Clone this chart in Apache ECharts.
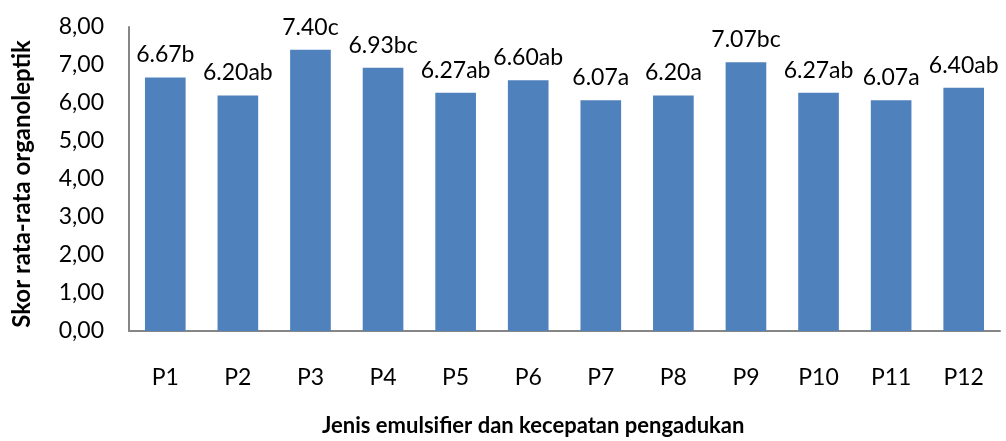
<!DOCTYPE html>
<html>
<head>
<meta charset="utf-8">
<script src="https://cdn.jsdelivr.net/npm/echarts@6/dist/echarts.min.js"></script>
<style>
  html, body { margin: 0; padding: 0; background: #fff; }
  #chart { width: 1006px; height: 441px; }
</style>
</head>
<body>
<div id="chart"></div>
<script>
// Treatments, mean organoleptic scores and significance letters
const categories = ['P1', 'P2', 'P3', 'P4', 'P5', 'P6', 'P7', 'P8', 'P9', 'P10', 'P11', 'P12'];
const scores = [6.67, 6.20, 7.40, 6.93, 6.27, 6.60, 6.07, 6.20, 7.07, 6.27, 6.07, 6.40];
const letters = ['b', 'ab', 'c', 'bc', 'ab', 'ab', 'a', 'a', 'bc', 'ab', 'a', 'ab'];
const yTicks = [0, 1, 2, 3, 4, 5, 6, 7, 8];

const FONT = 'Lato';
const chart = echarts.init(document.getElementById('chart'), null, { renderer: 'canvas' });

chart.setOption({
  animation: false,
  backgroundColor: '#ffffff',
  textStyle: { fontFamily: FONT, color: '#000' },
  title: {
    text: 'Jenis emulsifier dan kecepatan pengadukan',
    left: 322,
    top: 415,
    padding: 0,
    textStyle: { fontFamily: FONT, fontWeight: 'bold', fontSize: 22, color: '#000' }
  },
  // vertical axis title, rotated to read bottom-to-top
  graphic: [{
    type: 'text',
    x: 22,
    y: 184,
    rotation: Math.PI / 2,
    style: {
      text: 'Skor rata-rata organoleptik',
      fontFamily: FONT,
      fontWeight: 'bold',
      fontSize: 24,
      fill: '#000',
      align: 'center',
      verticalAlign: 'middle'
    }
  }],
  grid: { left: 129, right: 6, top: 27, bottom: 110, containLabel: false, outerBoundsMode: 'none' },
  xAxis: {
    type: 'category',
    data: categories,
    axisLine: { lineStyle: { color: '#868686', width: 2 } },
    axisTick: { show: false },
    axisLabel: { fontFamily: FONT, fontSize: 23, color: '#000', margin: 35 }
  },
  yAxis: {
    type: 'value',
    min: yTicks[0],
    max: yTicks[yTicks.length - 1],
    interval: 1,
    axisLine: { show: true, lineStyle: { color: '#868686', width: 2 } },
    axisTick: { show: false },
    splitLine: { show: false },
    axisLabel: {
      fontFamily: FONT, fontSize: 23, color: '#000', margin: 25,
      formatter: v => v.toFixed(2).replace('.', ',')
    }
  },
  series: [{
    type: 'bar',
    data: scores,
    barWidth: '56%',
    itemStyle: { color: '#4F81BD' },
    label: {
      show: true,
      position: 'top',
      distance: 11,
      fontFamily: FONT,
      fontSize: 23,
      color: '#000',
      formatter: p => p.value.toFixed(2) + letters[p.dataIndex]
    }
  }]
});
</script>
</body>
</html>
